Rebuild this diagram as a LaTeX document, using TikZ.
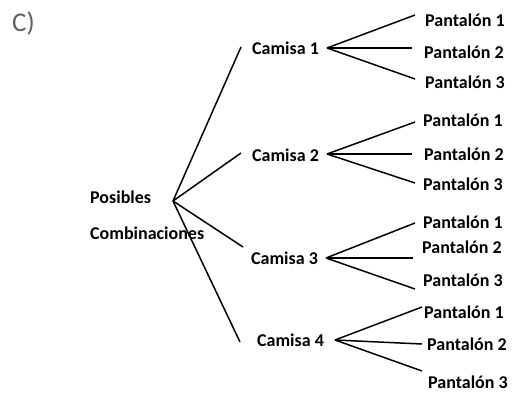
\documentclass[tikz,border=0pt]{standalone}
\usepackage{fontspec}
\setmainfont{Carlito}
\begin{document}
\begin{tikzpicture}[x=1pt,y=-1pt,
  lbl/.style={anchor=west,inner sep=0pt,font=\fontsize{18}{20}\selectfont\bfseries},
  br/.style={line width=1.5pt,black}]
\useasboundingbox (0,0) rectangle (515,394);
\node[anchor=west,inner sep=0pt,text=black!62,font=\fontsize{27}{29}\selectfont] (title) at (12,23) {C)};
\node[lbl] (pos) at (90,197) {Posibles};
\node[lbl] (comb) at (90,233) {Combinaciones};
\coordinate (r) at (173,201);
% camisas
\node[lbl] (c1) at (252,48) {Camisa 1};
\node[lbl] (c2) at (252,155) {Camisa 2};
\node[lbl] (c3) at (251,258) {Camisa 3};
\node[lbl] (c4) at (257,340) {Camisa 4};
\coordinate (e1) at (241,47);
\coordinate (e2) at (241,153);
\coordinate (e3) at (243,247);
\coordinate (e4) at (240,342);
\foreach \i in {1,2,3,4} \draw[br] (r) -- (e\i);
% apexes
\coordinate (a1) at (327,48);
\coordinate (a2) at (327,154);
\coordinate (a3) at (326,258);
\coordinate (a4) at (335,340);
% pantalon ends
\coordinate (p11e) at (415,15);  \coordinate (p12e) at (412,48);  \coordinate (p13e) at (415,79);
\coordinate (p21e) at (415,122); \coordinate (p22e) at (412,154); \coordinate (p23e) at (415,183);
\coordinate (p31e) at (415,223); \coordinate (p32e) at (413,258); \coordinate (p33e) at (415,289);
\coordinate (p41e) at (422,307); \coordinate (p42e) at (422,344); \coordinate (p43e) at (422,371);
\foreach \i in {1,2,3,4} \foreach \j in {1,2,3} \draw[br] (a\i) -- (p\i\j e);
% pantalon labels
\node[lbl] (p11) at (425,20) {Pantalón 1};
\node[lbl] (p12) at (424,52) {Pantalón 2};
\node[lbl] (p13) at (425,82) {Pantalón 3};
\node[lbl] (p21) at (423,120) {Pantalón 1};
\node[lbl] (p22) at (424,154) {Pantalón 2};
\node[lbl] (p23) at (423,184) {Pantalón 3};
\node[lbl] (p31) at (423,222) {Pantalón 1};
\node[lbl] (p32) at (422,247) {Pantalón 2};
\node[lbl] (p33) at (423,280) {Pantalón 3};
\node[lbl] (p41) at (424,312) {Pantalón 1};
\node[lbl] (p42) at (427,344) {Pantalón 2};
\node[lbl] (p43) at (428,382) {Pantalón 3};
\end{tikzpicture}
\end{document}
